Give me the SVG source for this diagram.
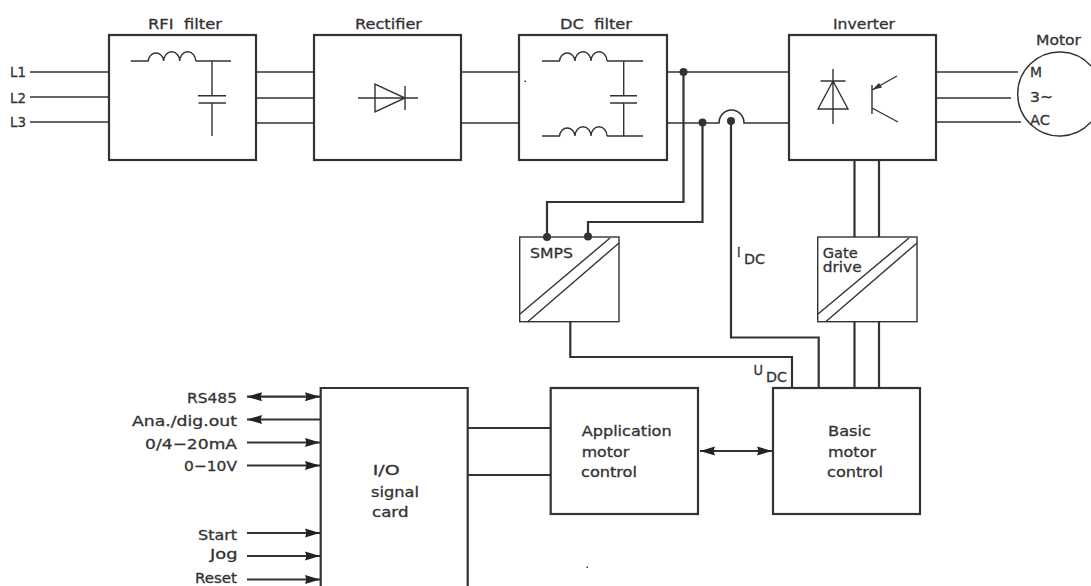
<svg xmlns="http://www.w3.org/2000/svg" width="1091" height="586" viewBox="0 0 1091 586">
<style>
text{font-family:"DejaVu Sans","Liberation Sans",sans-serif;font-size:14.500px;fill:#333;stroke:#333;stroke-width:.3;white-space:pre}
.box{fill:#fff;stroke:#333;stroke-width:2.2}
.thin{fill:none;stroke:#333;stroke-width:1.4}
.w{fill:none;stroke:#333;stroke-width:1.6}
.b{fill:none;stroke:#333;stroke-width:2.2}
.a{fill:none;stroke:#333;stroke-width:2.2;marker-end:url(#h)}
.aa{fill:none;stroke:#333;stroke-width:2.2;marker-start:url(#hs);marker-end:url(#h)}
.dot{fill:#333}
</style>
<defs>
<marker id="h" markerUnits="userSpaceOnUse" markerWidth="16" markerHeight="10" refX="15" refY="5" orient="auto"><path d="M0 .5L15 5L0 9.500L1.500 5Z" fill="#222"/></marker>
<marker id="hs" markerUnits="userSpaceOnUse" markerWidth="16" markerHeight="10" refX="0" refY="5" orient="auto"><path d="M0 5L15 .5L13.500 5L15 9.500Z" fill="#222"/></marker>
<path id="ind" d="M0 0H17.500A7.800 9 0 0 1 33 0A7.800 9 0 0 1 49 0A7.800 9 0 0 1 65 0" fill="none" stroke="#333" stroke-width="1.400"/>
</defs>
<g id="connectors">
<path class="w" d="M30 72H109M30 97H109M30 122H109M256 72H314M256 98H314M256 123H314M461 72H519M461 123H519M667 72H789M667 123H719A12.500 13 0 0 1 744 123H789M936 72H1018M936 98H1011M936 122H1021"/>
<path class="b" d="M683.500 72V202H547V237M702.500 123V222H588V237M731 121V337.500H818.700V388M570.300 321V357H792V388M854.500 160V237M879 160V237M854.500 321V388M879 321V388M468 428H551M468 475H551"/>
<path class="aa" d="M247 396.700H320"/>
<path class="a" d="M320 419.500H247"/>
<path class="a" d="M247 442.500H320"/>
<path class="a" d="M247 465.500H320"/>
<path class="a" d="M247 533H320"/>
<path class="a" d="M247 556H320"/>
<path class="a" d="M247 579.500H320"/>
<path class="aa" d="M700 451H772"/>
<circle class="dot" cx="683.500" cy="72" r="4"/><circle class="dot" cx="702.500" cy="122.500" r="4"/><circle class="dot" cx="731" cy="121" r="4"/>
</g>
<g id="rfi-filter"><rect class="box" x="109" y="35" width="147" height="125"/>
<use href="#ind" x="130.700" y="61"/><path class="thin" d="M195.700 61H231M212 61V95.700M198 95.700H226M198.500 103H226M212 103V136"/>
<text x="148" y="29" textLength="74" lengthAdjust="spacingAndGlyphs">RFI  filter</text></g>
<g id="rectifier"><rect class="box" x="314" y="35" width="147" height="125"/>
<path class="thin" d="M358 98H418M375 84V112L405 98ZM405 86V110"/>
<text x="355" y="29" textLength="67" lengthAdjust="spacingAndGlyphs">Rectifier</text></g>
<g id="dc-filter"><rect class="box" x="519" y="35" width="148" height="125"/>
<use href="#ind" x="542" y="61"/><use href="#ind" x="542" y="136"/>
<path class="thin" d="M607 61H643M607 136H643M623.700 61V95.700M610 95.700H637M610 103H637M623.700 103V136"/>
<rect class="dot" x="524.500" y="80.500" width="1.500" height="1.500"/>
<text x="560" y="29" textLength="72" lengthAdjust="spacingAndGlyphs">DC  filter</text></g>
<g id="inverter"><rect class="box" x="789" y="35" width="147" height="125"/>
<path class="thin" d="M833 69V124M820.500 81H845.500M833 81L818 109H848ZM872 85V114M872 108L898 122"/>
<path class="thin" d="M897 76L872 90"/><path d="M872 90L879 83L882 87.500Z" fill="#333"/>
<text x="833" y="29" textLength="62" lengthAdjust="spacingAndGlyphs">Inverter</text></g>
<g id="motor"><path class="thin" d="M1091 66A42 42 0 1 0 1091 122"/>
<text x="1036" y="45" textLength="45" lengthAdjust="spacingAndGlyphs">Motor</text>
<text x="1030" y="76.700" textLength="12" lengthAdjust="spacingAndGlyphs">M</text><text x="1030" y="102" textLength="23" lengthAdjust="spacingAndGlyphs">3~</text><text x="1030" y="125" textLength="20" lengthAdjust="spacingAndGlyphs">AC</text></g>
<g id="mains"><text x="10" y="77" textLength="16" lengthAdjust="spacingAndGlyphs">L1</text><text x="10" y="102.500" textLength="16" lengthAdjust="spacingAndGlyphs">L2</text><text x="10" y="127" textLength="16" lengthAdjust="spacingAndGlyphs">L3</text></g>
<g id="smps"><rect class="thin" x="519.700" y="237" width="99.300" height="84.700"/>
<path class="thin" d="M520 314L610 238M527.700 321.700L619 243"/>
<circle class="dot" cx="547" cy="237" r="4"/><circle class="dot" cx="588" cy="236.500" r="4"/>
<text x="530" y="257.700" textLength="43" lengthAdjust="spacingAndGlyphs">SMPS</text></g>
<g id="gate-drive"><rect class="thin" x="817.700" y="237" width="99.300" height="84.700"/>
<path class="thin" d="M818 314L909 238M825.700 321.700L917 243"/>
<text x="822.700" y="257.700" textLength="35" lengthAdjust="spacingAndGlyphs">Gate</text><text x="822.700" y="272" textLength="39" lengthAdjust="spacingAndGlyphs">drive</text></g>
<g id="idc-label"><text x="737" y="257" textLength="3.500" lengthAdjust="spacingAndGlyphs">I</text><text x="744" y="264" textLength="21" lengthAdjust="spacingAndGlyphs">DC</text></g>
<g id="udc-label"><text x="753.500" y="375" textLength="9.500" lengthAdjust="spacingAndGlyphs">U</text><text x="766" y="381.700" textLength="21" lengthAdjust="spacingAndGlyphs">DC</text></g>
<g id="io-card"><path class="box" d="M320.700 590V388H467.700V590"/>
<text x="372.700" y="475" textLength="27" lengthAdjust="spacingAndGlyphs">I/O</text><text x="371" y="496.700" textLength="48" lengthAdjust="spacingAndGlyphs">signal</text><text x="372" y="517" textLength="36.500" lengthAdjust="spacingAndGlyphs">card</text></g>
<g id="io-labels">
<text x="187" y="402.700" textLength="50" lengthAdjust="spacingAndGlyphs">RS485</text>
<text x="132" y="425.700" textLength="105" lengthAdjust="spacingAndGlyphs">Ana./dig.out</text>
<text x="145" y="448.700" textLength="92" lengthAdjust="spacingAndGlyphs">0/4−20mA</text>
<text x="184" y="471" textLength="53" lengthAdjust="spacingAndGlyphs">0−10V</text>
<text x="198" y="540" textLength="39" lengthAdjust="spacingAndGlyphs">Start</text>
<text x="210" y="559" textLength="27.500" lengthAdjust="spacingAndGlyphs">Jog</text>
<text x="195" y="582.700" textLength="42" lengthAdjust="spacingAndGlyphs">Reset</text>
</g>
<g id="application-control"><rect class="box" x="550.700" y="388" width="147.300" height="126"/>
<text x="581.700" y="436" textLength="90" lengthAdjust="spacingAndGlyphs">Application</text><text x="581.700" y="457" textLength="47.500" lengthAdjust="spacingAndGlyphs">motor</text><text x="581" y="477" textLength="56" lengthAdjust="spacingAndGlyphs">control</text></g>
<g id="basic-control"><rect class="box" x="773" y="388" width="147" height="126"/>
<text x="828" y="436" textLength="43" lengthAdjust="spacingAndGlyphs">Basic</text><text x="828" y="457" textLength="48" lengthAdjust="spacingAndGlyphs">motor</text><text x="827" y="477" textLength="56" lengthAdjust="spacingAndGlyphs">control</text></g>
<rect class="dot" x="586.500" y="566.500" width="1.500" height="1.500"/>
</svg>
